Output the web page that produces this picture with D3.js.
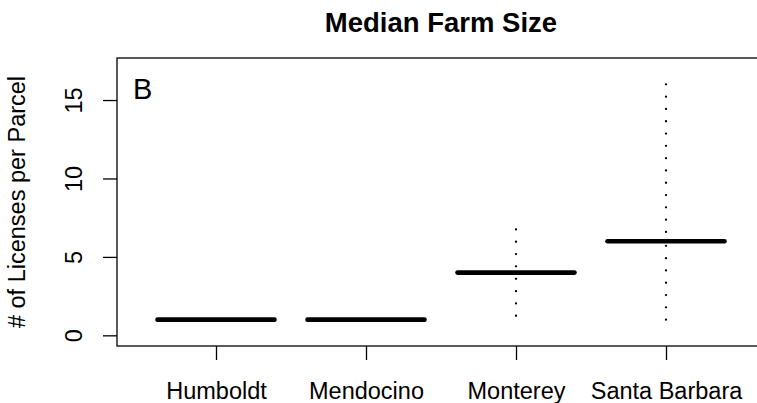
<!DOCTYPE html>
<html>
<head>
<meta charset="utf-8">
<script src="https://cdn.jsdelivr.net/npm/d3@7"></script>
<style>
  html, body { margin: 0; padding: 0; background: #fff; }
  svg { display: block; }
  text { font-family: "Liberation Sans", Arial, Helvetica, sans-serif; fill: #000; }
</style>
</head>
<body>
<svg id="chart" width="757" height="403"></svg>
<script>
// ---- data ----
const categories = ["Humboldt", "Mendocino", "Monterey", "Santa Barbara"];
const medians = [1, 1, 4, 6];
const lowerQuartile = [1, 1, 4, 6];
const upperQuartile = [1, 1, 4, 6];
const whiskerLow = [1, 1, 1.25, 1];
const whiskerHigh = [1, 1, 6.75, 16];
const yTicks = [0, 5, 10, 15];
const title = "Median Farm Size";
const yLabel = "# of Licenses per Parcel";
const panelLabel = "B";

// ---- layout ----
const W = 757, H = 403;
const plot = { left: 117, right: 765, top: 58, bottom: 346 };
const svg = d3.select("#chart");

const x = d3.scaleLinear().domain([0.34, categories.length + 0.66]).range([plot.left, plot.right]);
const y = d3.scaleLinear().domain([-0.68, 17.68]).range([plot.bottom, plot.top]);
const halfBox = 0.39;

// plot frame
svg.append("rect")
  .attr("x", plot.left).attr("y", plot.top)
  .attr("width", plot.right - plot.left).attr("height", plot.bottom - plot.top)
  .attr("fill", "none").attr("stroke", "#000").attr("stroke-width", 1.3);

// y axis
const yAxis = svg.append("g")
  .attr("transform", `translate(${plot.left},0)`)
  .call(d3.axisLeft(y).tickValues(yTicks).tickSize(14).tickFormat(d3.format("d")));
yAxis.select(".domain").remove();
yAxis.selectAll(".tick line").attr("stroke", "#000").attr("stroke-width", 1.3);
yAxis.selectAll(".tick text")
  .attr("x", null).attr("dy", null)
  .attr("text-anchor", "middle")
  .attr("transform", "translate(-35,0) rotate(-90)")
  .style("font-size", "23.5px")
  .style("font-family", "'Liberation Sans', Arial, Helvetica, sans-serif")
  .attr("fill", "#000");

// x axis
const xAxis = svg.append("g")
  .attr("transform", `translate(0,${plot.bottom})`)
  .call(d3.axisBottom(x).tickValues(categories.map((c, i) => i + 1))
    .tickSize(14).tickFormat(d => categories[d - 1]));
xAxis.select(".domain").remove();
xAxis.selectAll(".tick line").attr("stroke", "#000").attr("stroke-width", 1.3);
xAxis.selectAll(".tick text")
  .attr("y", 53).attr("dy", null)
  .style("font-size", "23.5px")
  .style("font-family", "'Liberation Sans', Arial, Helvetica, sans-serif")
  .attr("fill", "#000");

// whiskers (dotted), drawn from whisker end toward the box
const whiskers = [];
categories.forEach((c, i) => {
  whiskers.push({ i, from: whiskerHigh[i], to: upperQuartile[i] });
  whiskers.push({ i, from: whiskerLow[i], to: lowerQuartile[i] });
});
svg.append("g").selectAll("line.whisker")
  .data(whiskers.filter(w => w.from !== w.to))
  .join("line")
  .attr("class", "whisker")
  .attr("x1", d => x(d.i + 1)).attr("x2", d => x(d.i + 1))
  .attr("y1", d => y(d.from)).attr("y2", d => y(d.to))
  .attr("stroke", "#000").attr("stroke-width", 2.3)
  .attr("stroke-linecap", "round")
  .attr("stroke-dasharray", "0,12.3");

// medians
svg.append("g").selectAll("line.median")
  .data(medians)
  .join("line")
  .attr("class", "median")
  .attr("x1", (d, i) => x(i + 1 - halfBox)).attr("x2", (d, i) => x(i + 1 + halfBox))
  .attr("y1", d => y(d)).attr("y2", d => y(d))
  .attr("stroke", "#000").attr("stroke-width", 4.6)
  .attr("stroke-linecap", "round");

// title
svg.append("text")
  .attr("x", (plot.left + plot.right) / 2).attr("y", 31.5)
  .attr("text-anchor", "middle")
  .style("font-size", "27.5px").style("font-weight", "bold")
  .text(title);

// y label
svg.append("text")
  .attr("transform", `translate(25,${(plot.top + plot.bottom) / 2}) rotate(-90)`)
  .attr("text-anchor", "middle")
  .style("font-size", "23.5px")
  .text(yLabel);

// panel label
svg.append("text")
  .attr("x", 133).attr("y", 99)
  .style("font-size", "29px")
  .text(panelLabel);
</script>
</body>
</html>
